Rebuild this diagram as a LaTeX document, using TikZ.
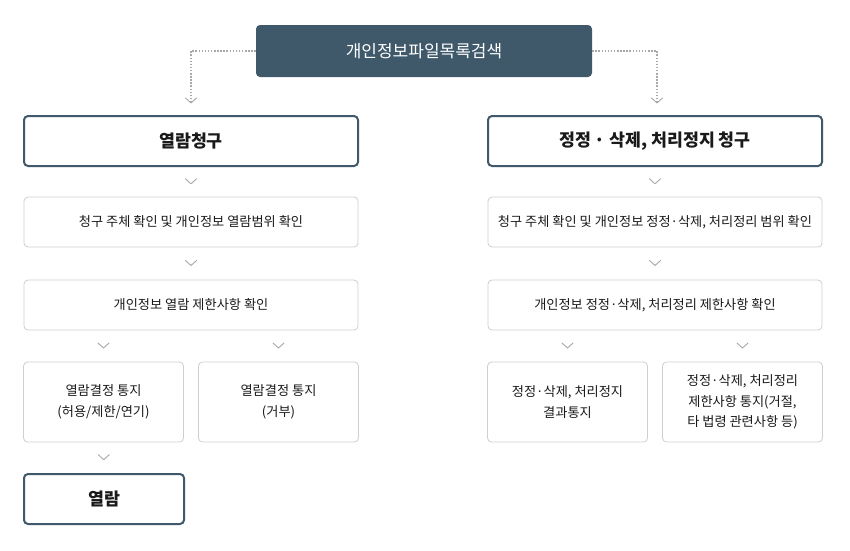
\documentclass[tikz,border=0pt]{standalone}
\usepackage{fontspec}
\setmainfont{Noto Sans CJK KR}
\definecolor{darkbox}{HTML}{3F596B}
\definecolor{lightborder}{HTML}{CFCFCF}
\definecolor{chevgray}{HTML}{A8A8A8}
\definecolor{txt}{HTML}{1A1A1A}
\tikzset{
  titlebox/.style={draw=none,fill=darkbox,rounded corners=4pt,text=white,font=\fontsize{17}{20}\selectfont,minimum width=336pt,minimum height=52pt,inner sep=0pt},
  headbox/.style={draw=darkbox,line width=2pt,rounded corners=4pt,fill=white,text=txt,font=\fontsize{17.3}{21}\selectfont\bfseries,minimum height=50pt,inner sep=0pt},
  stepbox/.style={draw=lightborder,line width=0.8pt,rounded corners=4pt,fill=white,text=txt,font=\fontsize{13.2}{20.5}\selectfont,minimum height=50pt,inner sep=0pt,align=center},
  dotline/.style={draw=chevgray,line width=1.5pt,dash pattern=on 1.5pt off 1.6pt},
  chev/.pic={\draw[chevgray,line width=0.9pt,line cap=round,line join=round] (-5.5pt,3pt) -- (0,-2pt) -- (5.5pt,3pt);}
}
\begin{document}
\begin{tikzpicture}[x=1pt,y=-1pt]
\useasboundingbox[fill=white] (0,0) rectangle (850,550);
% top
\node[titlebox] (top) at (424,51) {개인정보파일목록검색};
% left column
\node[headbox,minimum width=334pt] (L1) at (191,141) {열람청구};
\node[stepbox,minimum width=334pt] (L2) at (191,222) {청구 주체 확인 및 개인정보 열람범위 확인};
\node[stepbox,minimum width=334pt] (L3) at (191,305) {개인정보 열람 제한사항 확인};
\node[stepbox,minimum width=160pt,minimum height=80pt] (L4a) at (103.5,402) {열람결정 통지\\(허용/제한/연기)};
\node[stepbox,minimum width=160pt,minimum height=80pt] (L4b) at (278.5,402) {열람결정 통지\\(거부)};
\node[headbox,minimum width=160pt] (L5) at (104,499) {열람};
% right column
\node[headbox,minimum width=334pt] (R1) at (655,141) {정정 · 삭제, 처리정지 청구};
\node[stepbox,minimum width=334pt] (R2) at (655,222) {청구 주체 확인 및 개인정보 정정·삭제, 처리정리 범위 확인};
\node[stepbox,minimum width=334pt] (R3) at (655,305) {개인정보 정정·삭제, 처리정리 제한사항 확인};
\node[stepbox,minimum width=160pt,minimum height=80pt] (R4a) at (567.5,402) {정정·삭제, 처리정지\\결과통지};
\node[stepbox,minimum width=160pt,minimum height=80pt] (R4b) at (742.5,402) {정정·삭제, 처리정리\\제한사항 통지(거절,\\타 법령 관련사항 등)};
% dotted connectors
\coordinate (tl) at (191,101);
\coordinate (tr) at (657,101);
\draw[dotline] (top.west) -| (tl);
\draw[dotline] (top.east) -| (tr);
\pic at (tl) {chev};
\pic at (tr) {chev};
% chevrons between boxes
\path (L1.south) -- (L2.north) pic[pos=0.5] {chev};
\path (L2.south) -- (L3.north) pic[pos=0.5] {chev};
\path (L3.south -| L4a.north) -- (L4a.north) pic[pos=0.5] {chev};
\path (L3.south -| L4b.north) -- (L4b.north) pic[pos=0.5] {chev};
\path (L4a.south) -- (L5.north) pic[pos=0.5] {chev};
\path (R1.south) -- (R2.north) pic[pos=0.5] {chev};
\path (R2.south) -- (R3.north) pic[pos=0.5] {chev};
\path (R3.south -| R4a.north) -- (R4a.north) pic[pos=0.5] {chev};
\path (R3.south -| R4b.north) -- (R4b.north) pic[pos=0.5] {chev};
\end{tikzpicture}
\end{document}
